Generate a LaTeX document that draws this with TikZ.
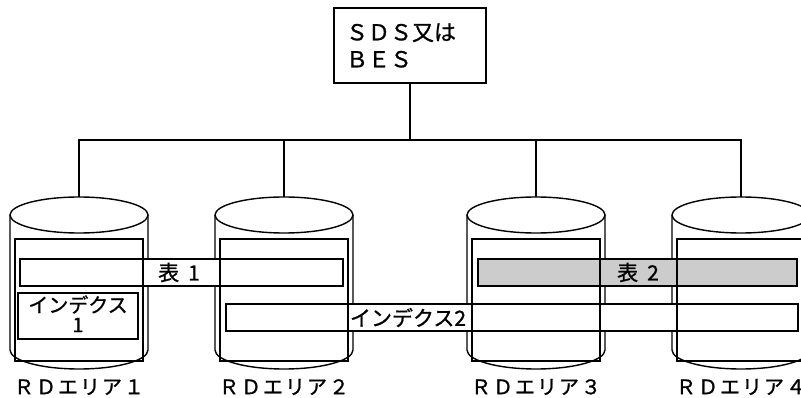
\documentclass[tikz,border=0pt]{standalone}
\usepackage{fontspec}
\newfontfamily\jp[FakeBold=1]{Noto Sans CJK JP}
\newfontfamily\jpwide[FakeBold=1, LetterSpace=10]{Noto Sans CJK JP}
\tikzset{
  hostbox/.style={draw, line width=1.4pt, minimum width=152pt, minimum height=75pt,
    inner xsep=0pt, text width=128pt, align=left, font=\jp\fontsize{22}{27}\selectfont},
  barbox/.style={draw, line width=1.4pt, fill=white},
  shadedbar/.style={draw, line width=1.4pt, fill=gray!40},
  bartext/.style={inner sep=0pt, font=\jp\fontsize{21}{24}\selectfont},
  rdtext/.style={inner sep=0pt, font=\jpwide\fontsize{20}{22}\selectfont},
}
\begin{document}
\begin{tikzpicture}[x=1pt, y=-1pt, line width=1.4pt]
  \useasboundingbox (0,0) rectangle (801,398);
  \clip (0,0) rectangle (801,398);

  % host
  \node[hostbox] (host) at (410,45.5) {ＳＤＳ又は\\ＢＥＳ};

  % cylinders
  \foreach \cx [count=\i] in {79,284,536,741} {
    \draw[fill=white] (\cx-69,215) -- (\cx-69,350)
      arc[start angle=180, end angle=0, x radius=69, y radius=19] -- (\cx+69,215);
    \draw[fill=white] (\cx,215) ellipse[x radius=69, y radius=18];
    \coordinate (top\i) at (\cx,197);
    \coordinate (in\i) at (\cx,300);
    \node[rdtext] (rd\i) at (\cx,387) {ＲＤエリア\ifcase\i\or １\or ２\or ３\or ４\fi};
  }

  % connections
  \coordinate (bus) at (410,140);
  \draw (host.south) -- (bus);
  \draw (top1) |- (bus) -| (top4);
  \draw (top2) -- (top2 |- bus);
  \draw (top3) -- (top3 |- bus);

  % tables and indexes
  \draw[barbox] (20,259) rectangle (343,286);
  \draw[shadedbar] (478,259) rectangle (797,286);
  \draw[barbox] (226,304) rectangle (798,331);

  % inner areas
  \foreach \i in {1,...,4}
    \draw ([xshift=-64pt]in\i |- 0,239) rectangle ([xshift=64pt]in\i |- 0,361);

  \draw[barbox] (18,293) rectangle (138,339);
  \node[bartext, font=\jp\fontsize{20}{24}\selectfont] (idx1) at (78,304.5) {インデクス};
  \node[bartext, font=\jp\fontsize{20}{24}\selectfont] (idx1n) at (78,325) {1};

  \node[bartext] (tbl1) at (179,272.5) {表\hspace{9pt}1};
  \node[bartext] (tbl2) at (638,272.5) {表\hspace{9pt}2};
  \node[bartext] (idx2) at (408,317.5) {インデクス2};
\end{tikzpicture}
\end{document}
